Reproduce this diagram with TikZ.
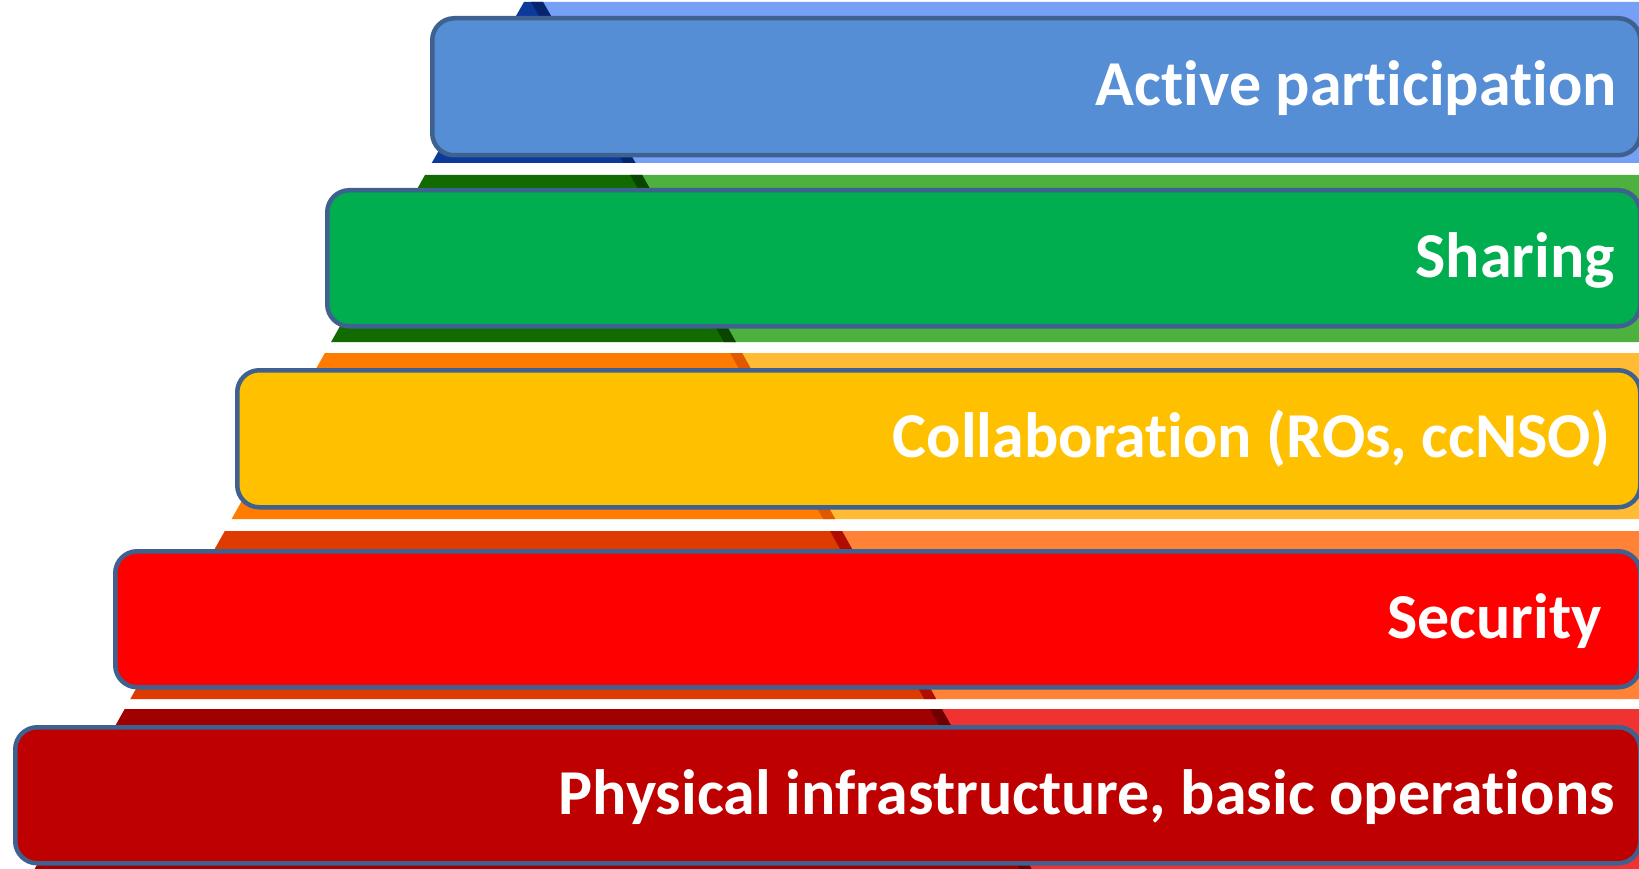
\documentclass[tikz,border=0pt]{standalone}
\usepackage{fontspec}
\setmainfont{Carlito}[RawFeature={-liga;-clig}]
\definecolor{bdr}{HTML}{3E6190}
\definecolor{bluebox}{HTML}{558ED5}
\definecolor{greenbox}{HTML}{00AE4F}
\definecolor{yellowbox}{HTML}{FFC000}
\definecolor{redbox}{HTML}{FF0000}
\definecolor{darkredbox}{HTML}{BE0000}
% pyramid bands
\definecolor{bluedk}{HTML}{0B3A9B}\definecolor{bluesh}{HTML}{062570}\definecolor{bluelt}{HTML}{76A0F5}
\definecolor{greendk}{HTML}{116B00}\definecolor{greensh}{HTML}{0A4500}\definecolor{greenlt}{HTML}{4DB13E}
\definecolor{orangedk}{HTML}{FF7C00}\definecolor{orangesh}{HTML}{E05800}\definecolor{orangelt}{HTML}{FFBB33}
\definecolor{rodk}{HTML}{DF3A00}\definecolor{rosh}{HTML}{B00C00}\definecolor{rolt}{HTML}{FF8236}
\definecolor{drdk}{HTML}{A00000}\definecolor{drsh}{HTML}{700000}\definecolor{drlt}{HTML}{F03232}
\tikzset{
  stepbox/.style={draw=bdr, line width=4.5pt, rounded corners=22pt, rectangle, inner sep=0pt, anchor=north west},
  lbl/.style={text=white, font=\fontsize{64}{70}\selectfont\bfseries, inner sep=0pt, anchor=base east},
}
\newcommand{\band}[9]{%
  % #1 top y, #2 bottom y, #3 xl top, #4 xl bottom, #5 xr top, #6 xr bottom, #7 dark, #8 shade, #9 light
  \fill[#9] (#5,#1) -- (1639,#1) -- (1639,#2) -- (#6,#2) -- cycle;
  \fill[#7] (#3,#1) -- (#5,#1) -- (#6,#2) -- (#4,#2) -- cycle;
  \fill[#8] ({#5-12},#1) -- (#5,#1) -- (#6,#2) -- ({#6-12},#2) -- cycle;
}
\begin{document}
\begin{tikzpicture}[x=1pt,y=-1pt]
\useasboundingbox (0,0) rectangle (1639,869);
\fill[white] (0,0) rectangle (1639,869);
\begin{scope}
\clip (0,0) rectangle (1639,869);
\band{2}{163}{524}{431.7}{543}{635.5}{bluedk}{bluesh}{bluelt}
\band{175}{342}{425}{331.1}{642.2}{735.9}{greendk}{greensh}{greenlt}
\band{353}{519}{324.9}{231.6}{742.1}{835.2}{orangedk}{orangesh}{orangelt}
\band{531}{699}{224.8}{130.3}{842.0}{936.2}{rodk}{rosh}{rolt}
\band{709}{875}{124.7}{31.3}{941.8}{1035}{drdk}{drsh}{drlt}

\node[stepbox, fill=bluebox, minimum width=1208pt, minimum height=137pt] (b1) at (430,16) {};
\node[stepbox, fill=greenbox, minimum width=1313pt, minimum height=136pt] (b2) at (325,188) {};
\node[stepbox, fill=yellowbox, minimum width=1403pt, minimum height=137pt] (b3) at (235,368) {};
\node[stepbox, fill=redbox, minimum width=1525pt, minimum height=136pt] (b4) at (113,549) {};
\node[stepbox, fill=darkredbox, minimum width=1625pt, minimum height=136pt] (b5) at (13,725) {};
\end{scope}

\node[lbl] (t1) at (1617,106) {Active participation};
\node[lbl] (t2) at (1615,277) {Sharing};
\node[lbl] (t3) at (1610,457) {Collaboration (ROs, ccNSO)};
\node[lbl] (t4) at (1602,638) {Security};
\node[lbl] (t5) at (1615,814) {Physical infrastructure, basic operations};
\end{tikzpicture}
\end{document}
